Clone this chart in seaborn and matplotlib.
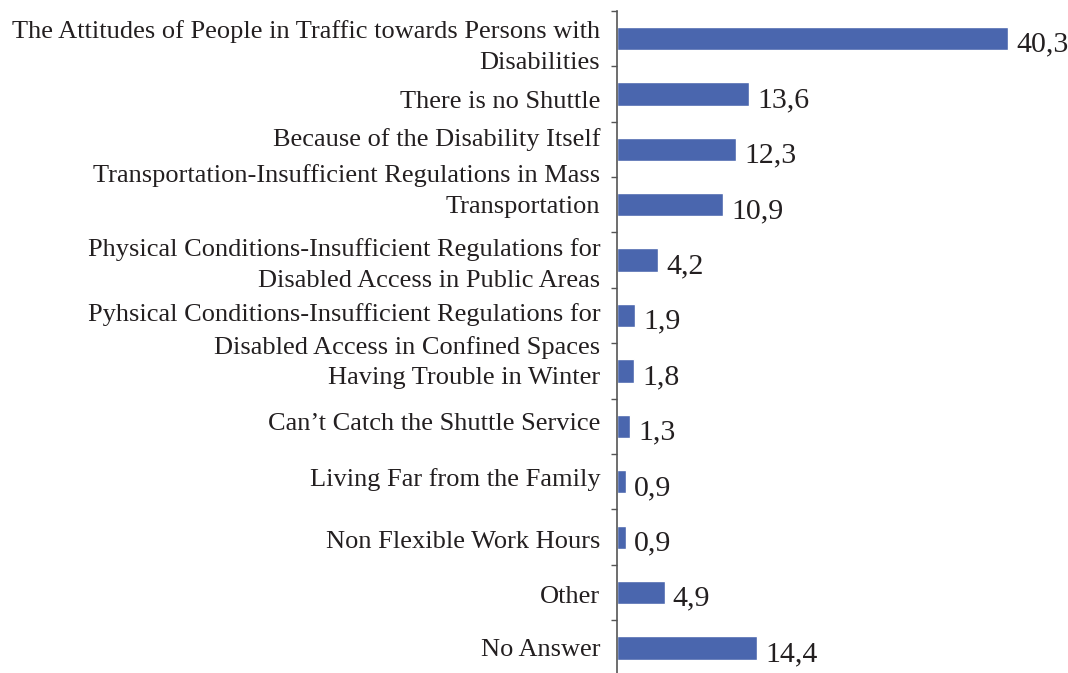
import matplotlib
matplotlib.use("Agg")
import matplotlib.pyplot as plt
import numpy as np
import seaborn as sns

# survey answers, top to bottom
categories = [
    "The Attitudes of People in Traffic towards Persons with\nDisabilities",
    "There is no Shuttle",
    "Because of the Disability Itself",
    "Transportation-Insufficient Regulations in Mass\nTransportation",
    "Physical Conditions-Insufficient Regulations for\nDisabled Access in Public Areas",
    "Pyhsical Conditions-Insufficient Regulations for\nDisabled Access in Confined Spaces",
    "Having Trouble in Winter",
    "Can\u2019t Catch the Shuttle Service",
    "Living Far from the Family",
    "Non Flexible Work Hours",
    "Other",
    "No Answer",
]
values = [40.3, 13.6, 12.3, 10.9, 4.2, 1.9, 1.8, 1.3, 0.9, 0.9, 4.9, 14.4]
value_labels = [f"{v:.1f}".replace(".", ",") for v in values]

# small vertical nudges (points, + = down) so the labels sit like the original
label_dy = [6, 6, -7, -10, 3.5, 11, 5, -1.5, -1.5, 3.5, 3.5, 1.5]

BAR = "#4a66ae"
TXT = "#231f20"
GREY = "#555555"

sns.set_style("white")
plt.rcParams["font.family"] = ["Liberation Serif", "DejaVu Serif"]

fig = plt.figure(figsize=(10.68, 6.73), dpi=100)
ax = fig.add_axes([0.5777, -0.004, 1 - 0.5777, 0.988])

sns.barplot(x=values, y=categories, orient="h", color=BAR, width=0.42,
            saturation=1, ax=ax)

texts = ax.bar_label(ax.containers[0], labels=value_labels, padding=6,
                     fontsize=21.5, color=TXT)
for t in texts:
    # drop the numbers a little, they sit on the bar's middle in the original
    t.xyann = (t.xyann[0], -4.5)

n = len(categories)
ax.set_xlim(0, 46.5)
ax.set_ylim(n - 0.5, -0.5)
ax.set_xlabel("")
ax.set_ylabel("")
ax.set_xticks([])

# ticks between the categories, labels drawn by hand
ax.set_yticks(np.arange(-0.5, n, 1), minor=True)
ax.tick_params(axis="y", which="major", length=0, labelleft=False)
ax.tick_params(axis="y", which="minor", length=4.5, width=1, color=GREY,
               direction="out", left=True)

for i, (lab, dy) in enumerate(zip(categories, label_dy)):
    ax.annotate(lab, xy=(0, i), xycoords=("axes fraction", "data"),
                xytext=(-12, -dy), textcoords="offset points",
                ha="right", va="center", fontsize=19, color=TXT,
                linespacing=1.55, annotation_clip=False)

for s in ["top", "right", "bottom"]:
    ax.spines[s].set_visible(False)
ax.spines["left"].set_color(GREY)
ax.spines["left"].set_linewidth(1.2)

fig.savefig("out.png", dpi=100)
